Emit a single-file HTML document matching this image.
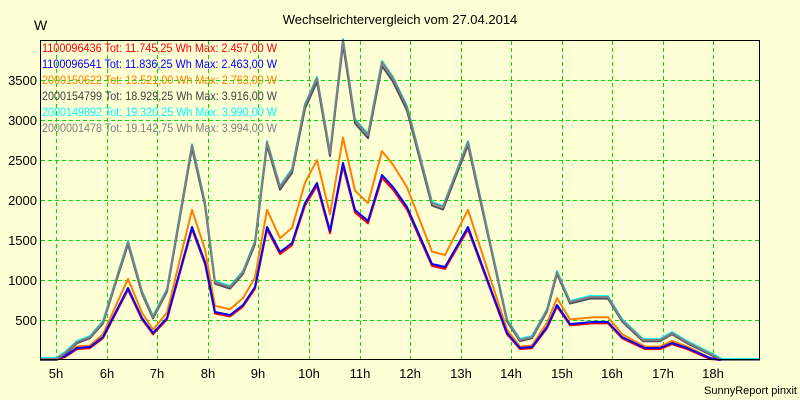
<!DOCTYPE html><html><head><meta charset="utf-8"><style>
body{margin:0;background:#FFFFD6;}
svg{display:block;font-family:"Liberation Sans",sans-serif;}
</style></head><body>
<svg id="s" width="800" height="400" xmlns="http://www.w3.org/2000/svg">
<rect width="800" height="400" fill="#FFFFD6"/>
<text x="400" y="24" font-size="13" text-anchor="middle">Wechselrichtervergleich vom 27.04.2014</text>
<text x="34" y="30" font-size="14">W</text>
<g id="grid" stroke="#00E000" stroke-dasharray="4,3" stroke-width="1"></g>
<g font-size="12" lengthAdjust="spacingAndGlyphs">
<text x="42" y="52" fill="#FF0000" textLength="235" lengthAdjust="spacingAndGlyphs">1100096436 Tot: 11.745,25 Wh Max: 2.457,00 W</text>
<text x="42" y="68" fill="#0000FF" textLength="235" lengthAdjust="spacingAndGlyphs">1100096541 Tot: 11.836,25 Wh Max: 2.463,00 W</text>
<text x="42" y="84" fill="#FF8000" textLength="235" lengthAdjust="spacingAndGlyphs">2000150622 Tot: 13.521,00 Wh Max: 2.763,00 W</text>
<text x="42" y="100" fill="#404040" textLength="235" lengthAdjust="spacingAndGlyphs">2000154799 Tot: 18.929,25 Wh Max: 3.916,00 W</text>
<text x="42" y="116" fill="#00FFFF" textLength="235" lengthAdjust="spacingAndGlyphs">2000149892 Tot: 19.320,25 Wh Max: 3.990,00 W</text>
<text x="42" y="132" fill="#808080" textLength="235" lengthAdjust="spacingAndGlyphs">2000001478 Tot: 19.142,75 Wh Max: 3.994,00 W</text>
</g>
<g id="ser" fill="none" stroke-width="2" stroke-linejoin="round"></g>
<path d="M40.5 40V359.5H759.5V40.5H40" fill="none" stroke="#000" stroke-width="1"/>
<g id="lab" font-size="13"></g>
<text x="797" y="394" font-size="11" text-anchor="end">SunnyReport pinxit</text>
</svg>
<script>
var NS="http://www.w3.org/2000/svg";
function el(p,t,a,txt){var e=document.createElementNS(NS,t);for(var k in a)e.setAttribute(k,a[k]);if(txt)e.textContent=txt;document.getElementById(p).appendChild(e);}
var hx=[56,107,157,208,258,309,360,410,461,511,562,612,663,713];
hx.forEach(function(x,i){el("grid","line",{x1:x+.5,y1:41,x2:x+.5,y2:359});el("lab","text",{x:x,y:378,"text-anchor":"middle"},(i+5)+"h");});
for(var v=500;v<=3500;v+=500){var y=360-v*0.08;el("grid","line",{x1:41,y1:y+.5,x2:759,y2:y+.5});el("lab","text",{x:37,y:y+5,"text-anchor":"end"},String(v));}
var gray=[[40,359],[56,359],[65,353],[77,342],[90,337],[103,322],[128,242],[142,292],[153,317],[167,290],[192,145],[205,203],[215,282],[230,287],[243,272],[255,242],[267,142],[280,187],[292,170],[305,105],[317,78],[330,153],[343,40],[355,120],[368,135],[382,62],[393,78],[407,107],[432,203],[443,207],[468,142],[507,320],[520,340],[532,337],[547,310],[557,272],[570,302],[590,297],[608,297],[622,320],[643,340],[660,340],[672,333],[687,342],[713,355],[722,360],[760,360]];
var blue=[[40,359],[56,359],[65,356],[77,348],[90,347],[103,337],[128,288],[142,318],[153,333],[167,318],[192,227],[205,262],[215,312],[230,315],[243,305],[255,287],[267,227],[280,252],[292,243],[305,203],[317,183],[330,231],[343,163],[355,210],[368,221],[382,175],[393,187],[407,207],[432,264],[445,267],[468,227],[507,333],[520,348],[532,347],[547,327],[557,305],[570,324],[593,322],[608,322],[622,337],[645,348],[660,348],[672,343],[687,348],[710,358],[720,360],[760,360]];
function tr(a,f,dy){return a.map(function(p){return [p[0],Math.min(360,359-(359-p[1])*f+dy)];});}
function pl(a,c){el("ser","polyline",{points:a.map(function(p){return p.join(",");}).join(" "),stroke:c});}
pl(tr(blue,0.99,1),"#FF0000");
pl(tr(blue,1.13,0),"#FF8000");
pl(blue,"#0000FF");
pl(tr(gray,1.0,-1),"#00FFFF");
pl(tr(gray,0.99,1),"#505060");
pl(gray,"#808080");
</script>
</body></html>
